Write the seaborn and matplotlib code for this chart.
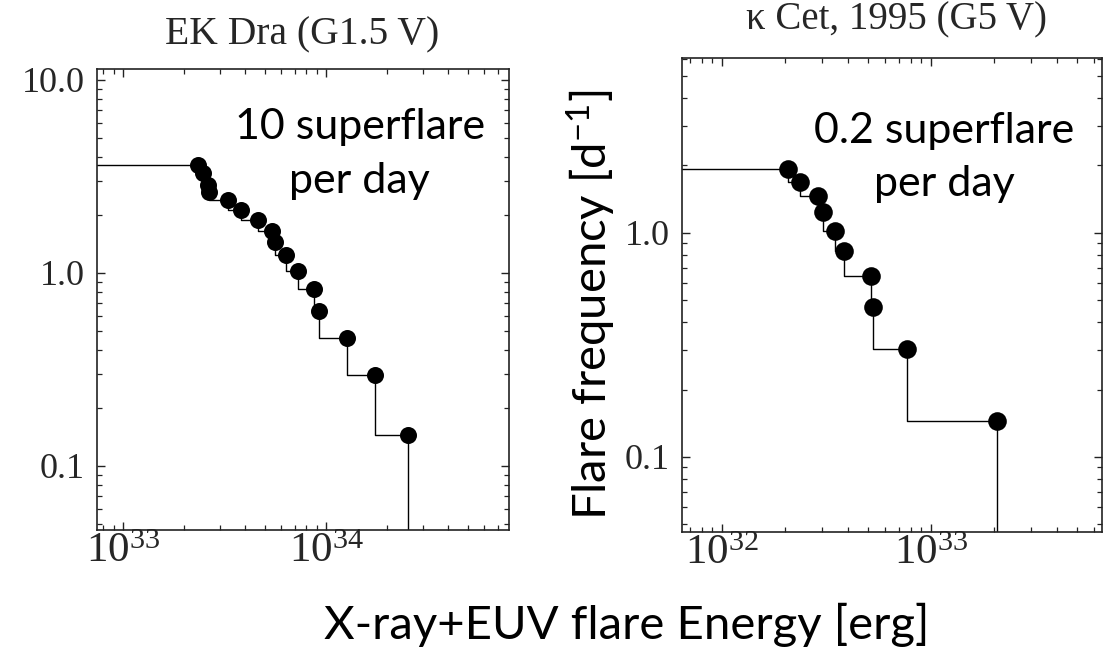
import numpy as np
import matplotlib
matplotlib.use("Agg")
import matplotlib.pyplot as plt
import matplotlib.ticker as mticker
import seaborn as sns

# ---------------- data ----------------
ek_energy = [2.34e33, 2.48e33, 2.63e33, 2.66e33, 3.29e33, 3.81e33, 4.62e33, 5.42e33,
             5.61e33, 6.35e33, 7.28e33, 8.73e33, 9.25e33, 1.26e34, 1.74e34, 2.54e34]
ek_freq = [3.63, 3.30, 2.86, 2.63, 2.39, 2.12, 1.88, 1.65,
           1.45, 1.24, 1.02, 0.826, 0.636, 0.461, 0.296, 0.145]

kc_energy = [2.07e32, 2.36e32, 2.87e32, 3.06e32, 3.47e32, 3.84e32, 5.16e32, 5.26e32,
             7.65e32, 2.07e33]
kc_freq = [1.92, 1.68, 1.46, 1.245, 1.024, 0.831, 0.645, 0.469, 0.303, 0.144]

titles = ["EK Dra (G1.5 V)", "\u03ba Cet, 1995 (G5 V)"]
notes = ["10 superflare\nper day", "0.2 superflare\nper day"]
xlabel = "X-ray+EUV flare Energy [erg]"
ylabel = "Flare frequency [d$^{\\mathdefault{-1}}$]"

# ---------------- style ----------------
sns.set_style("ticks", {"xtick.direction": "in", "ytick.direction": "in"})
plt.rcParams["font.family"] = ["Liberation Serif", "DejaVu Serif"]
plt.rcParams["mathtext.fontset"] = "stix"
plt.rcParams["mathtext.default"] = "regular"
plt.rcParams["axes.edgecolor"] = "#222222"
plt.rcParams["axes.linewidth"] = 1.2

fig = plt.figure(figsize=(11.07, 6.49), dpi=100)
ax1 = fig.add_axes([0.0876, 0.1834, 0.3722, 0.7103])
ax2 = fig.add_axes([0.6161, 0.1803, 0.3794, 0.7304])

lims = [
    ((10 ** 32.872, 10 ** 34.90), (10 ** -1.332, 10 ** 1.057)),
    ((10 ** 31.809, 10 ** 33.818), (10 ** -1.335, 10 ** 0.781)),
]


def panel(ax, x, y, xlim, ylim, msize):
    ax.set_xscale("log")
    ax.set_yscale("log")
    lx = [xlim[0]] + list(x) + [x[-1]]
    ly = [y[0]] + list(y) + [ylim[0] * 0.5]
    sns.lineplot(x=lx, y=ly, ax=ax, drawstyle="steps-pre", estimator=None,
                 sort=False, color="black", linewidth=1.0)
    sns.scatterplot(x=x, y=y, ax=ax, s=msize, color="black", edgecolor="black",
                    linewidth=0, zorder=3)
    ax.set_xlim(*xlim)
    ax.set_ylim(*ylim)
    ax.xaxis.set_major_locator(mticker.LogLocator(base=10, numticks=10))
    ax.xaxis.set_minor_locator(mticker.LogLocator(base=10, subs=np.arange(2, 10), numticks=20))
    ax.yaxis.set_major_locator(mticker.LogLocator(base=10, numticks=10))
    ax.yaxis.set_minor_locator(mticker.LogLocator(base=10, subs=np.arange(2, 10), numticks=20))
    ax.xaxis.set_major_formatter(mticker.LogFormatterMathtext())
    ax.xaxis.set_minor_formatter(mticker.NullFormatter())
    ax.yaxis.set_major_formatter(mticker.FuncFormatter(lambda v, p: f"{v:.1f}"))
    ax.yaxis.set_minor_formatter(mticker.NullFormatter())
    ax.tick_params(which="both", direction="in", top=True, right=True, color="#222222")
    ax.tick_params(which="major", length=6, width=1.0)
    ax.tick_params(which="minor", length=3.5, width=0.9)
    ax.tick_params(axis="x", which="major", labelsize=31, pad=2)
    ax.tick_params(axis="y", which="major", labelsize=26, pad=9)
    ax.set_xlabel("")
    ax.set_ylabel("")


panel(ax1, ek_energy, ek_freq, *lims[0], 150)
panel(ax2, kc_energy, kc_freq, *lims[1], 180)

# titles
fig.text(302 / 1107, 1 - 35 / 649, titles[0], ha="center", va="center", fontsize=28.5)
fig.text(896 / 1107, 1 - 20 / 649, titles[1], ha="center", va="center", fontsize=28)

sans = ["Lato", "DejaVu Sans"]
# annotations
ax1.text(0.638, 0.8156, notes[0], transform=ax1.transAxes, ha="center", va="center",
         multialignment="center", fontsize=31, family=sans, linespacing=1.5,
         color="black")
ax2.text(0.624, 0.790, notes[1], transform=ax2.transAxes, ha="center", va="center",
         multialignment="center", fontsize=31, family=sans, linespacing=1.5,
         color="black")

# shared labels
fig.text(627 / 1107, 1 - 625 / 649, xlabel, ha="center", va="center", fontsize=34,
         family=sans, color="black")
fig.text(591 / 1107, 1 - 305 / 649, ylabel, ha="center", va="center", rotation=90,
         fontsize=34, family=sans, color="black",
         bbox=dict(facecolor="white", edgecolor="none", pad=0), zorder=10)

fig.savefig("out.png", dpi=100)
